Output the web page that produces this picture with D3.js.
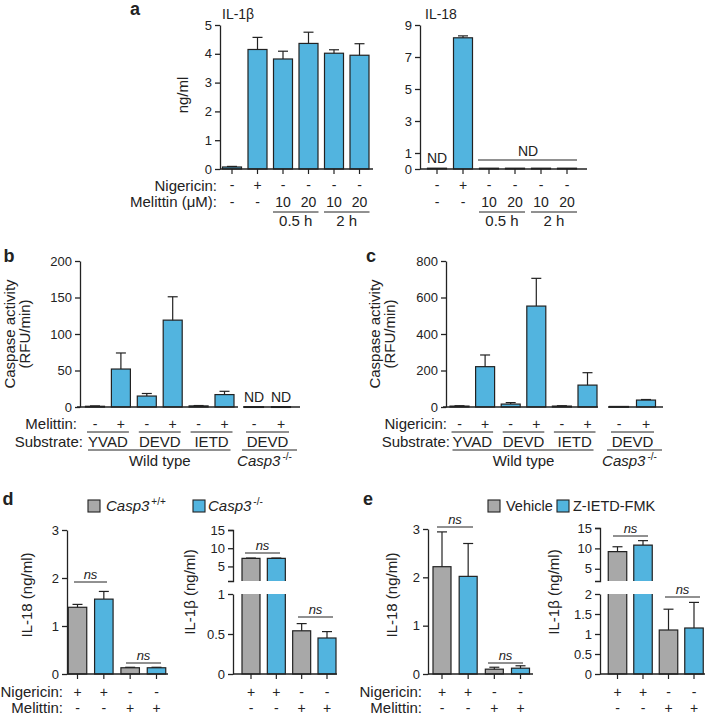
<!DOCTYPE html>
<html><head><meta charset="utf-8">
<script src="https://cdn.jsdelivr.net/npm/d3@7"></script>
<style>
body{margin:0;background:#fff;}
svg{display:block;font-family:"Liberation Sans",Arial,Helvetica,sans-serif;}
</style></head><body>
<svg id="fig" width="708" height="717"></svg>
<script>
// ---------- DATA ----------
// Panel a
const aCats = ["ctrl","nig","m10_05h","m20_05h","m10_2h","m20_2h"];
const aNigericin = ["-","+","-","-","-","-"];
const aMelittin = ["-","-","10","20","10","20"];
const aTimes = ["0.5 h","2 h"];
const il1bA = [0.07, 4.15, 3.82, 4.36, 4.02, 3.95];
const il1bAErr = [0.02, 0.42, 0.27, 0.39, 0.12, 0.40];
const il18A = [0.05, 8.2, 0.05, 0.05, 0.05, 0.05];
const il18AErr = [0, 0.12, 0, 0, 0, 0];
const aIl1bTicks = [0,1,2,3,4,5];
const aIl18Ticks = [0,1,3,5,7,9];
// Panels b, c
const wtCats = ["YVAD-","YVAD+","DEVD-","DEVD+","IETD-","IETD+"];
const koCats = ["DEVDko-","DEVDko+"];
const treatSigns = ["-","+","-","+","-","+","-","+"];
const substrates = ["YVAD","DEVD","IETD","DEVD"];
const casB = [1, 52, 15, 119, 1.5, 17, 0.5, 0.5];
const casBErr = [0.5, 22, 3.5, 32, 0.5, 4.5, 0, 0];
const casC = [5, 221, 16, 553, 5, 120, 3, 38];
const casCErr = [2, 64, 8, 152, 2, 68, 0, 3];
const bTicks = [0,50,100,150,200];
const cTicks = [0,200,400,600,800];
// Panels d, e
const deCats = ["nig1","nig2","mel1","mel2"];
const deNigericin = ["+","+","-","-"];
const deMelittin = ["-","-","+","+"];
const il18D = [1.39, 1.56, 0.13, 0.13];
const il18DErr = [0.06, 0.16, 0.01, 0.01];
const il1bD = [7.2, 7.2, 0.54, 0.45];
const il1bDErr = [0.1, 0.1, 0.09, 0.08];
const il18E = [2.22, 2.02, 0.10, 0.12];
const il18EErr = [0.72, 0.68, 0.04, 0.05];
const il1bE = [9.2, 10.8, 1.1, 1.15];
const il1bEErr = [1.2, 1.1, 0.52, 0.64];
const dLegendSup = ["+/+","-/-"];
const eLegend = ["Vehicle","Z-IETD-FMK"];
const lowTicks3 = [0,1,2,3];
const dUpperTicks = [5,10,15];
const dLowerTicks = [0,0.5,1];
const eUpperTicks = [5,10,15];
const eLowerTicks = [0,0.5,1,1.5,2];

// ---------- HELPERS ----------
const svg = d3.select("#fig");
const BLUE = "#52b4df", GRAY = "#a8a8a8", INK = "#222";
const FONT = "'Liberation Sans',Arial,Helvetica,sans-serif";

function band(keys, c0, c1, w){
  const n = keys.length, s = (c1 - c0) / (n - 1), pi = 1 - w / s;
  return d3.scaleBand().domain(keys).range([c0 - s/2, c1 + s/2]).paddingInner(pi).paddingOuter(pi/2);
}
function ctr(x, k){ return x(k) + x.bandwidth()/2; }
function label(x, y, t, o={}){
  return svg.append("text").attr("x", x).attr("y", y)
    .attr("font-size", o.size || 15).attr("fill", INK)
    .attr("text-anchor", o.anchor || "middle")
    .attr("font-weight", o.weight || null)
    .attr("font-style", o.italic ? "italic" : null)
    .text(t);
}
function hline(x0, x1, y, w){
  svg.append("line").attr("x1", x0).attr("x2", x1).attr("y1", y).attr("y2", y)
    .attr("stroke", INK).attr("stroke-width", w || 1.2);
}
function yAxis(x, y, ticks, outer){
  const g = svg.append("g").attr("transform", `translate(${x},0)`)
    .call(d3.axisLeft(y).tickValues(ticks).tickSize(5).tickSizeOuter(outer || 0).tickPadding(3)
      .tickFormat(d => String(d)));
  g.attr("font-size", 13).attr("font-family", FONT);
  g.select(".domain").attr("stroke", INK).attr("stroke-width", 1.3);
  g.selectAll(".tick line").attr("stroke", INK).attr("stroke-width", 1.3);
  g.selectAll(".tick text").attr("fill", INK);
  return g;
}
function xTicks(x, y0){
  const g = svg.append("g").attr("transform", `translate(0,${y0})`)
    .call(d3.axisBottom(x).tickSize(5).tickFormat(""));
  g.select(".domain").remove();
  g.selectAll(".tick line").attr("stroke", INK).attr("stroke-width", 1.2);
}
function errBar(c, top, et){
  svg.append("line").attr("x1", c).attr("x2", c).attr("y1", top).attr("y2", et)
    .attr("stroke", INK).attr("stroke-width", 1.2);
  svg.append("line").attr("x1", c - 5).attr("x2", c + 5).attr("y1", et).attr("y2", et)
    .attr("stroke", INK).attr("stroke-width", 1.2);
}
function bars(x, y, keys, vals, errs, colors){
  const y0 = y(y.domain()[0]);
  keys.forEach((k, i) => {
    const v = vals[i];
    const top = y(v);
    svg.append("rect").attr("x", x(k)).attr("y", top).attr("width", x.bandwidth())
      .attr("height", Math.max(y0 - top, 0.8))
      .attr("fill", colors[i]).attr("stroke", INK).attr("stroke-width", 1.2);
    const e = errs ? errs[i] : 0;
    if (e > 0) errBar(ctr(x, k), top, y(v + e));
  });
}
function brokenBars(x, yl, yu, keys, vals, errs, colors){
  const lTop = yl(yl.domain()[1]), lBot = yl(yl.domain()[0]);
  const uBot = yu(yu.domain()[0]);
  keys.forEach((k, i) => {
    const v = vals[i], x0 = x(k), w = x.bandwidth(), c = ctr(x, k);
    if (v > yl.domain()[1]){
      svg.append("rect").attr("x", x0).attr("y", lTop).attr("width", w).attr("height", lBot - lTop).attr("fill", colors[i]);
      svg.append("path").attr("d", `M${x0},${lTop}V${lBot}H${x0+w}V${lTop}`).attr("fill", "none").attr("stroke", INK).attr("stroke-width", 1.2);
      const top = yu(v);
      svg.append("rect").attr("x", x0).attr("y", top).attr("width", w).attr("height", uBot - top).attr("fill", colors[i]);
      svg.append("path").attr("d", `M${x0},${uBot}V${top}H${x0+w}V${uBot}`).attr("fill", "none").attr("stroke", INK).attr("stroke-width", 1.2);
      if (errs[i] > 0) errBar(c, top, yu(v + errs[i]));
    } else {
      const top = yl(v);
      svg.append("rect").attr("x", x0).attr("y", top).attr("width", w).attr("height", lBot - top)
        .attr("fill", colors[i]).attr("stroke", INK).attr("stroke-width", 1.2);
      if (errs[i] > 0) errBar(c, top, yl(v + errs[i]));
    }
  });
}
function vlabel(x, y, t, size){
  svg.append("text").attr("transform", `translate(${x},${y}) rotate(-90)`)
    .attr("text-anchor", "middle").attr("dominant-baseline", "central")
    .attr("font-size", size || 15).attr("fill", INK).text(t);
}
function ns(x0, x1, y){
  hline(x0, x1, y, 1);
  label((x0 + x1)/2, y - 3, "ns", {size: 13, italic: true});
}
function casp3(x, y, sup, anchor){
  const t = svg.append("text").attr("x", x).attr("y", y).attr("text-anchor", anchor || "middle")
    .attr("font-size", 15).attr("fill", INK);
  t.append("tspan").attr("font-style", "italic").text("Casp3");
  t.append("tspan").attr("font-size", 10).attr("dy", -6).attr("dx", 2).text(sup);
}

// ---------- PANEL a ----------
label(135, 15, "a", {size: 18, weight: "bold"});
const yA1 = d3.scaleLinear().domain([0,5]).range([169,25]);
const xA1 = band(aCats, 232, 359.5, 19);
bars(xA1, yA1, aCats, il1bA, il1bAErr, aCats.map(() => BLUE));
yAxis(220, yA1, aIl1bTicks);
hline(220, 373, 169, 1.3);
xTicks(xA1, 169);
label(222, 19, "IL-1β", {size: 14, anchor: "start"});
vlabel(182, 95, "ng/ml", 15);

const yA2 = d3.scaleLinear().domain([0,9]).range([169,25]);
const xA2 = band(aCats, 437, 567, 19);
bars(xA2, yA2, aCats, il18A, il18AErr, aCats.map(() => BLUE));
yAxis(420, yA2, aIl18Ticks);
hline(420, 587, 169, 1.3);
xTicks(xA2, 169);
label(425, 19, "IL-18", {size: 14, anchor: "start"});
label(ctr(xA2, aCats[0]), 163, "ND", {size: 14});
hline(ctr(xA2, aCats[2]) - 11, ctr(xA2, aCats[5]) + 10, 160, 1);
label((ctr(xA2, aCats[2]) + ctr(xA2, aCats[5]))/2, 156, "ND", {size: 14});

label(217, 191, "Nigericin:", {anchor: "end"});
label(217, 207, "Melittin (μM):", {anchor: "end"});
[xA1, xA2].forEach(x => {
  aCats.forEach((k, i) => {
    label(ctr(x, k), 190, aNigericin[i], {size: 14});
    label(ctr(x, k), 207, aMelittin[i], {size: 14});
  });
  [[2,3],[4,5]].forEach((p, j) => {
    const c0 = ctr(x, aCats[p[0]]), c1 = ctr(x, aCats[p[1]]);
    hline(c0 - 10, c1 + 10, 212, 1);
    label((c0 + c1)/2, 226, aTimes[j]);
  });
});

// ---------- PANELS b & c ----------
function caspPanel(o){
  label(o.letterX, 262, o.letter, {size: 18, weight: "bold"});
  const y = d3.scaleLinear().domain([0, o.ticks[o.ticks.length-1]]).range([407, 261]);
  const xw = band(wtCats, o.wt[0], o.wt[1], 19);
  const xk = band(koCats, o.ko[0], o.ko[1], 19);
  bars(xw, y, wtCats, o.vals.slice(0,6), o.errs.slice(0,6), wtCats.map(() => BLUE));
  bars(xk, y, koCats, o.vals.slice(6), o.errs.slice(6), koCats.map(() => BLUE));
  yAxis(o.axisX, y, o.ticks);
  hline(o.axisX - 3, o.seg1End, 407, 1.3);
  hline(o.seg2[0], o.seg2[1], 407, 1.3);
  vlabel(o.labX[0], 334, "Caspase activity");
  vlabel(o.labX[1], 334, "(RFU/min)");
  if (o.nd){
    koCats.forEach(k => label(ctr(xk, k), 402, "ND", {size: 14}));
  }
  label(o.rowX[0], 429, o.treat + ":", {anchor: "end"});
  label(o.rowX[1], 447, "Substrate:", {anchor: "end"});
  const centers = wtCats.map(k => ctr(xw, k)).concat(koCats.map(k => ctr(xk, k)));
  centers.forEach((c, i) => label(c, 429, treatSigns[i], {size: 14}));
  for (let j = 0; j < 4; j++){
    const c0 = centers[2*j], c1 = centers[2*j+1];
    hline(c0 - 8, c1 + 8, 432, 1);
    label((c0 + c1)/2, 447, substrates[j]);
  }
  hline(centers[0] - 7, centers[5] + 6, 450, 1);
  hline(centers[6] - 12, centers[7] + 16, 450, 1);
  label((centers[0] + centers[5])/2, 466, "Wild type");
  casp3((centers[6] + centers[7])/2 - 3, 466, "-/-");
}
caspPanel({letter: "b", letterX: 9, axisX: 80, ticks: bTicks, wt: [95, 224.5], ko: [254, 281],
  vals: casB, errs: casBErr, seg1End: 238, seg2: [243, 300], labX: [9, 24], rowX: [77, 83],
  treat: "Melittin", nd: true});
caspPanel({letter: "c", letterX: 371, axisX: 446, ticks: cTicks, wt: [459.5, 587.5], ko: [619, 646],
  vals: casC, errs: casCErr, seg1End: 598, seg2: [608, 663], labX: [374, 389], rowX: [447, 450],
  treat: "Nigericin", nd: false});

// ---------- PANELS d & e ----------
const deColors = [GRAY, BLUE, GRAY, BLUE];
function legendBox(x, y, c){
  svg.append("rect").attr("x", x).attr("y", y).attr("width", 12).attr("height", 12)
    .attr("fill", c).attr("stroke", INK).attr("stroke-width", 1.1);
}
function rowSigns(x){
  deCats.forEach((k, i) => {
    label(ctr(x, k), 697, deNigericin[i], {size: 14});
    label(ctr(x, k), 713, deMelittin[i], {size: 14});
  });
}

label(8, 505, "d", {size: 18, weight: "bold"});
legendBox(88, 500, GRAY);
casp3(106, 511, dLegendSup[0], "start");
legendBox(193, 500, BLUE);
casp3(208, 511, dLegendSup[1], "start");

const yDL = d3.scaleLinear().domain([0,3]).range([674,530]);
const xDL = band(deCats, 77.5, 156.5, 18.5);
bars(xDL, yDL, deCats, il18D, il18DErr, deColors);
yAxis(67, yDL, lowTicks3);
hline(67, 168, 674, 1.3);
xTicks(xDL, 674);
vlabel(26, 595, "IL-18 (ng/ml)");
ns(74, 107, 582);
ns(126, 161, 663);
label(63, 697, "Nigericin:", {anchor: "end"});
label(63, 713, "Melittin:", {anchor: "end"});
rowSigns(xDL);

const yDRl = d3.scaleLinear().domain([0,1]).range([674,594]);
const yDRu = d3.scaleLinear().domain([1,15]).range([581,530]);
const xDR = band(deCats, 251, 327, 18);
brokenBars(xDR, yDRl, yDRu, deCats, il1bD, il1bDErr, deColors);
yAxis(233, yDRl, dLowerTicks, 0);
yAxis(233, yDRu, dUpperTicks, 5);
hline(233, 337, 674, 1.3);
xTicks(xDR, 674);
vlabel(189, 592, "IL-1β (ng/ml)");
ns(245, 280, 553);
ns(298, 333, 617);
rowSigns(xDR);

label(368, 505, "e", {size: 18, weight: "bold"});
legendBox(488, 500, GRAY);
label(506, 511, eLegend[0], {anchor: "start", size: 14.5});
legendBox(557, 500, BLUE);
label(573, 511, eLegend[1], {anchor: "start", size: 14.5});

const yEL = d3.scaleLinear().domain([0,3]).range([674,529]);
const xEL = band(deCats, 442, 520.5, 18);
bars(xEL, yEL, deCats, il18E, il18EErr, deColors);
yAxis(428, yEL, lowTicks3);
hline(428, 533, 674, 1.3);
xTicks(xEL, 674);
vlabel(391, 595, "IL-18 (ng/ml)");
ns(437, 473, 527);
ns(488, 523, 663);
label(422, 697, "Nigericin:", {anchor: "end"});
label(422, 713, "Melittin:", {anchor: "end"});
rowSigns(xEL);

const yERl = d3.scaleLinear().domain([0,2]).range([674,594]);
const yERu = d3.scaleLinear().domain([2,15]).range([581,528]);
const xER = band(deCats, 617.5, 694, 18.5);
brokenBars(xER, yERl, yERu, deCats, il1bE, il1bEErr, deColors);
yAxis(600, yERl, eLowerTicks, 0);
yAxis(600, yERu, eUpperTicks, 5);
hline(600, 705, 674, 1.3);
xTicks(xER, 674);
vlabel(553, 592, "IL-1β (ng/ml)");
ns(613, 648, 536);
ns(665, 700, 597);
rowSigns(xER);
</script>
</body></html>
